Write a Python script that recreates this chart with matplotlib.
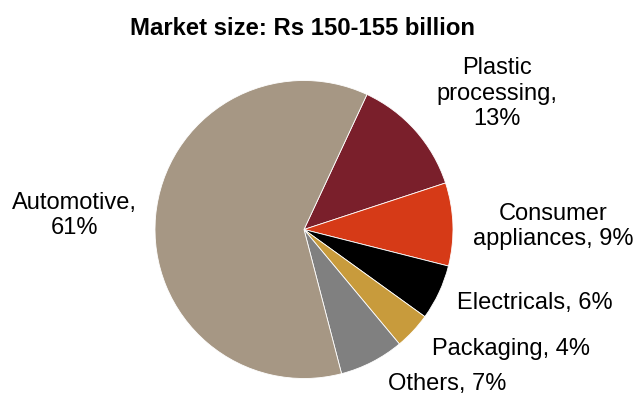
import matplotlib
matplotlib.use("Agg")
import matplotlib.pyplot as plt

# Market share by end-use segment (%), clockwise from the top
segments = ["Plastic\nprocessing", "Consumer\nappliances", "Electricals",
            "Packaging", "Others", "Automotive"]
shares = [13, 9, 6, 4, 7, 61]
colors = ["#7A1F2B", "#D63A17", "#000000", "#C89B3C", "#808080", "#A69784"]
title = "Market size: Rs 150-155 billion"

W, H = 636, 394
plt.rcParams["font.family"] = ["Liberation Sans", "DejaVu Sans"]
fig = plt.figure(figsize=(W / 100, H / 100), dpi=100)
ax = fig.add_axes([0, 0, 1, 1])

cx, cy, r = 304, H - 229.5, 149
ax.pie(shares, colors=colors, startangle=65, counterclock=False,
       center=(cx, cy), radius=r, frame=True,
       wedgeprops=dict(linewidth=0.6, edgecolor="white"))
ax.set_xlim(0, W)
ax.set_ylim(0, H)
ax.set_aspect("equal")
ax.axis("off")

fs = 17
# label anchor (x centre, last-line baseline) in pixel units from the top
label_pos = {
    "Plastic\nprocessing": (497, 125),
    "Consumer\nappliances": (553, 245),
    "Electricals": (535, 309),
    "Packaging": (511, 355),
    "Others": (447, 390),
    "Automotive": (74, 234),
}
for name, val in zip(segments, shares):
    x, yb = label_pos[name]
    if name in ("Plastic\nprocessing", "Automotive"):
        txt = f"{name},\n{val}%"
    else:
        txt = f"{name}, {val}%"
    ax.text(x, H - yb, txt, ha="center", va="baseline", fontsize=fs,
            multialignment="center", linespacing=1.2, color="black")

ax.text(303, H - 35, title, ha="center", va="baseline", fontsize=17.2,
        fontweight="bold")

fig.savefig("out.png", dpi=100)
